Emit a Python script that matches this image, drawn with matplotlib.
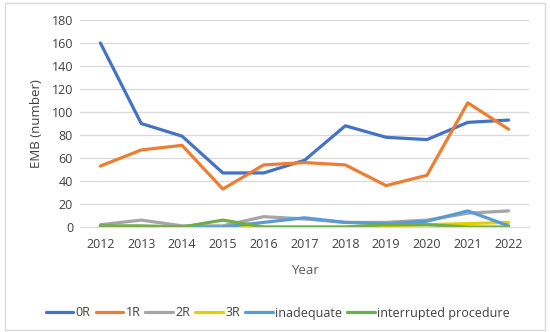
import matplotlib.pyplot as plt
from matplotlib.patches import Rectangle

plt.rcParams['font.family'] = ['Open Sans', 'DejaVu Sans']

years = [2012, 2013, 2014, 2015, 2016, 2017, 2018, 2019, 2020, 2021, 2022]
r0 = [160, 90, 79, 47, 47, 58, 88, 78, 76, 91, 93]
r1 = [53, 67, 71, 33, 54, 56, 54, 36, 45, 108, 85]
r2 = [2, 6, 1, 1, 9, 7, 4, 4, 6, 12, 14]
r3 = [0, 0, 0, 0, 0, 0, 0, 1, 2, 3, 4]
inadequate = [0, 0, 0, 0, 4, 8, 4, 3, 5, 14, 1]
interrupted = [1, 1, 0, 6, 0, 0, 0, 2, 2, 0, 0]

series = [("0R", r0, "#4472C4"),
          ("1R", r1, "#ED7D31"),
          ("2R", r2, "#A5A5A5"),
          ("3R", r3, "#E2D000"),
          ("inadequate", inadequate, "#5B9BD5"),
          ("interrupted procedure", interrupted, "#70AD47")]

fig = plt.figure(figsize=(5.5, 3.32), dpi=100)
ax = fig.add_axes([80 / 550, 1 - 227 / 332, 449 / 550, 207 / 332])

x = list(range(len(years)))
for name, vals, col in series:
    ax.plot(x, vals, color=col, lw=2.3, label=name, solid_capstyle='round')

ax.set_xlim(-0.5, len(years) - 0.5)
ax.set_ylim(0, 180)
ax.set_yticks(range(0, 181, 20))
ax.set_xticks(x)
ax.set_xticklabels([str(y) for y in years])
ax.grid(axis='y', color='#D9D9D9', lw=0.9)
ax.set_axisbelow(True)
for s in ['top', 'right', 'left']:
    ax.spines[s].set_visible(False)
ax.spines['bottom'].set_color('#D9D9D9')
ax.tick_params(axis='x', length=0, labelsize=9, colors='#404040', pad=8)
ax.tick_params(axis='y', length=0, labelsize=9, colors='#404040', pad=5)
ax.set_xlabel('Year', fontsize=9.5, color='#595959', labelpad=9)
ax.set_ylabel('EMB (number)', fontsize=9.5, color='#404040', labelpad=6)

fig.legend(loc='center', bbox_to_anchor=(0.505, 1 - 313 / 332), ncol=6, frameon=False,
           fontsize=9, handlelength=2.2, handletextpad=0.2, columnspacing=0.4,
           labelcolor='#404040')

fig.patches.append(Rectangle((5 / 550, 2 / 332), 540 / 550, 327 / 332, transform=fig.transFigure,
                             fill=False, edgecolor='#D9D9D9', lw=1))

fig.savefig('out.png', dpi=100)
